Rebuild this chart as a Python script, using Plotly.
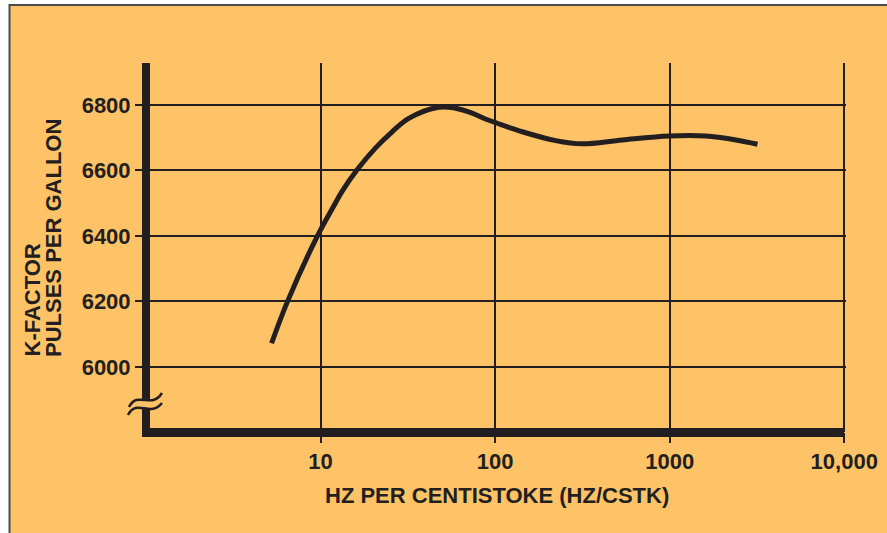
import plotly.graph_objects as go

# ---- data ----
hz_per_cstk = [5.24, 6.47, 9.6, 11.9, 13.25, 16.15, 20.6, 25.7, 32.0, 47.5, 59.3,
               73.8, 88.1, 102.7, 143, 222, 315, 535, 992, 1611, 2395, 3184]
k_factor = [6072, 6200, 6400, 6491, 6535, 6601, 6668, 6718, 6759, 6793, 6790,
            6775, 6757, 6744, 6718, 6691, 6681, 6693, 6705, 6705, 6693, 6680]

x_tickvals = [10, 100, 1000, 10000]
x_ticktext = ["10", "100", "1000", "10,000"]
y_tickvals = [6000, 6200, 6400, 6600, 6800]
y_ticktext = ["6000", "6200", "6400", "6600", "6800"]

INK = "#231f20"
BG = "#fdc366"
FONT = "Liberation Sans"

# plot area geometry (pixels)
W, H = 887, 533
L, R, T, B = 146, 41, 63, 101
PW = W - L - R
PH = H - T - B


def xp(px):
    return (px - L) / PW


def yp(py):
    return (H - B - py) / PH


fig = go.Figure()
fig.add_trace(go.Scatter(
    x=hz_per_cstk, y=k_factor, mode="lines",
    line=dict(color=INK, width=5, shape="spline", smoothing=1.0),
    hoverinfo="skip", showlegend=False,
))

shapes = []
# background panel with thin grey border (left & top visible)
shapes.append(dict(type="rect", xref="paper", yref="paper",
                   x0=xp(9.5), x1=xp(W + 20), y0=yp(5), y1=yp(H + 20),
                   fillcolor=BG, line=dict(color="#4a4a4a", width=2), layer="below"))
# thick axis lines
shapes.append(dict(type="line", xref="paper", yref="paper",
                   x0=xp(146), x1=xp(146), y0=1, y1=yp(437),
                   line=dict(color=INK, width=8)))
shapes.append(dict(type="line", xref="paper", yref="paper",
                   x0=xp(142), x1=xp(844), y0=yp(432.5), y1=yp(432.5),
                   line=dict(color=INK, width=9)))
# axis-break symbol
ax_anchor = dict(xref="paper", yref="paper", xsizemode="pixel", ysizemode="pixel",
                 xanchor=0, yanchor=yp(404))
shapes.append(dict(type="path", **ax_anchor,
                   path="M -17,-3 C -8,14 5,-6 16,11 L 16,1 C 4,-14 -9,6 -18,-11 Z",
                   fillcolor=BG, line=dict(width=0)))
shapes.append(dict(type="path", **ax_anchor,
                   path="M -17,-3 C -8,14 5,-6 16,11",
                   line=dict(color=INK, width=2.5)))
shapes.append(dict(type="path", **ax_anchor,
                   path="M -18,-11 C -9,6 4,-14 16,1",
                   line=dict(color=INK, width=2.5)))

TITLE_FONT = dict(family=FONT, size=22, color=INK, weight="bold")
annotations = [
    dict(text="HZ PER CENTISTOKE (HZ/CSTK)", xref="paper", yref="paper",
         x=xp(497), y=yp(495), xanchor="center", yanchor="middle", showarrow=False,
         font=TITLE_FONT),
    dict(text="K-FACTOR", xref="paper", yref="paper", textangle=-90,
         x=xp(32), y=yp(359), xanchor="center", yanchor="bottom", showarrow=False,
         font=TITLE_FONT),
    dict(text="PULSES PER GALLON", xref="paper", yref="paper", textangle=-90,
         x=xp(53), y=yp(359), xanchor="center", yanchor="bottom", showarrow=False,
         font=TITLE_FONT),
]

TICK_FONT = dict(family=FONT, size=22, color=INK, weight="bold")
fig.update_layout(
    width=W, height=H,
    margin=dict(l=L, r=R, t=T, b=B, pad=0),
    paper_bgcolor="white", plot_bgcolor="rgba(0,0,0,0)",
    shapes=shapes, annotations=annotations,
    showlegend=False,
    xaxis=dict(type="log", range=[0, 4.01], tickvals=x_tickvals, ticktext=x_ticktext,
               automargin=False,
               showgrid=True, gridcolor=INK, gridwidth=2, zeroline=False, showline=False,
               ticks="outside", ticklen=10, tickwidth=2, tickcolor=INK,
               tickfont=TICK_FONT),
    yaxis=dict(range=[5801, 6928], tickvals=y_tickvals, ticktext=y_ticktext,
               automargin=False,
               showgrid=True, gridcolor=INK, gridwidth=2, zeroline=False, showline=False,
               ticks="outside", ticklen=10, tickwidth=2, tickcolor=INK,
               tickfont=TICK_FONT),
)

fig.write_html(
    "out.html",
    config={"displayModeBar": False},
    post_script="document.body.style.margin='0';document.body.style.overflow='hidden';",
)
